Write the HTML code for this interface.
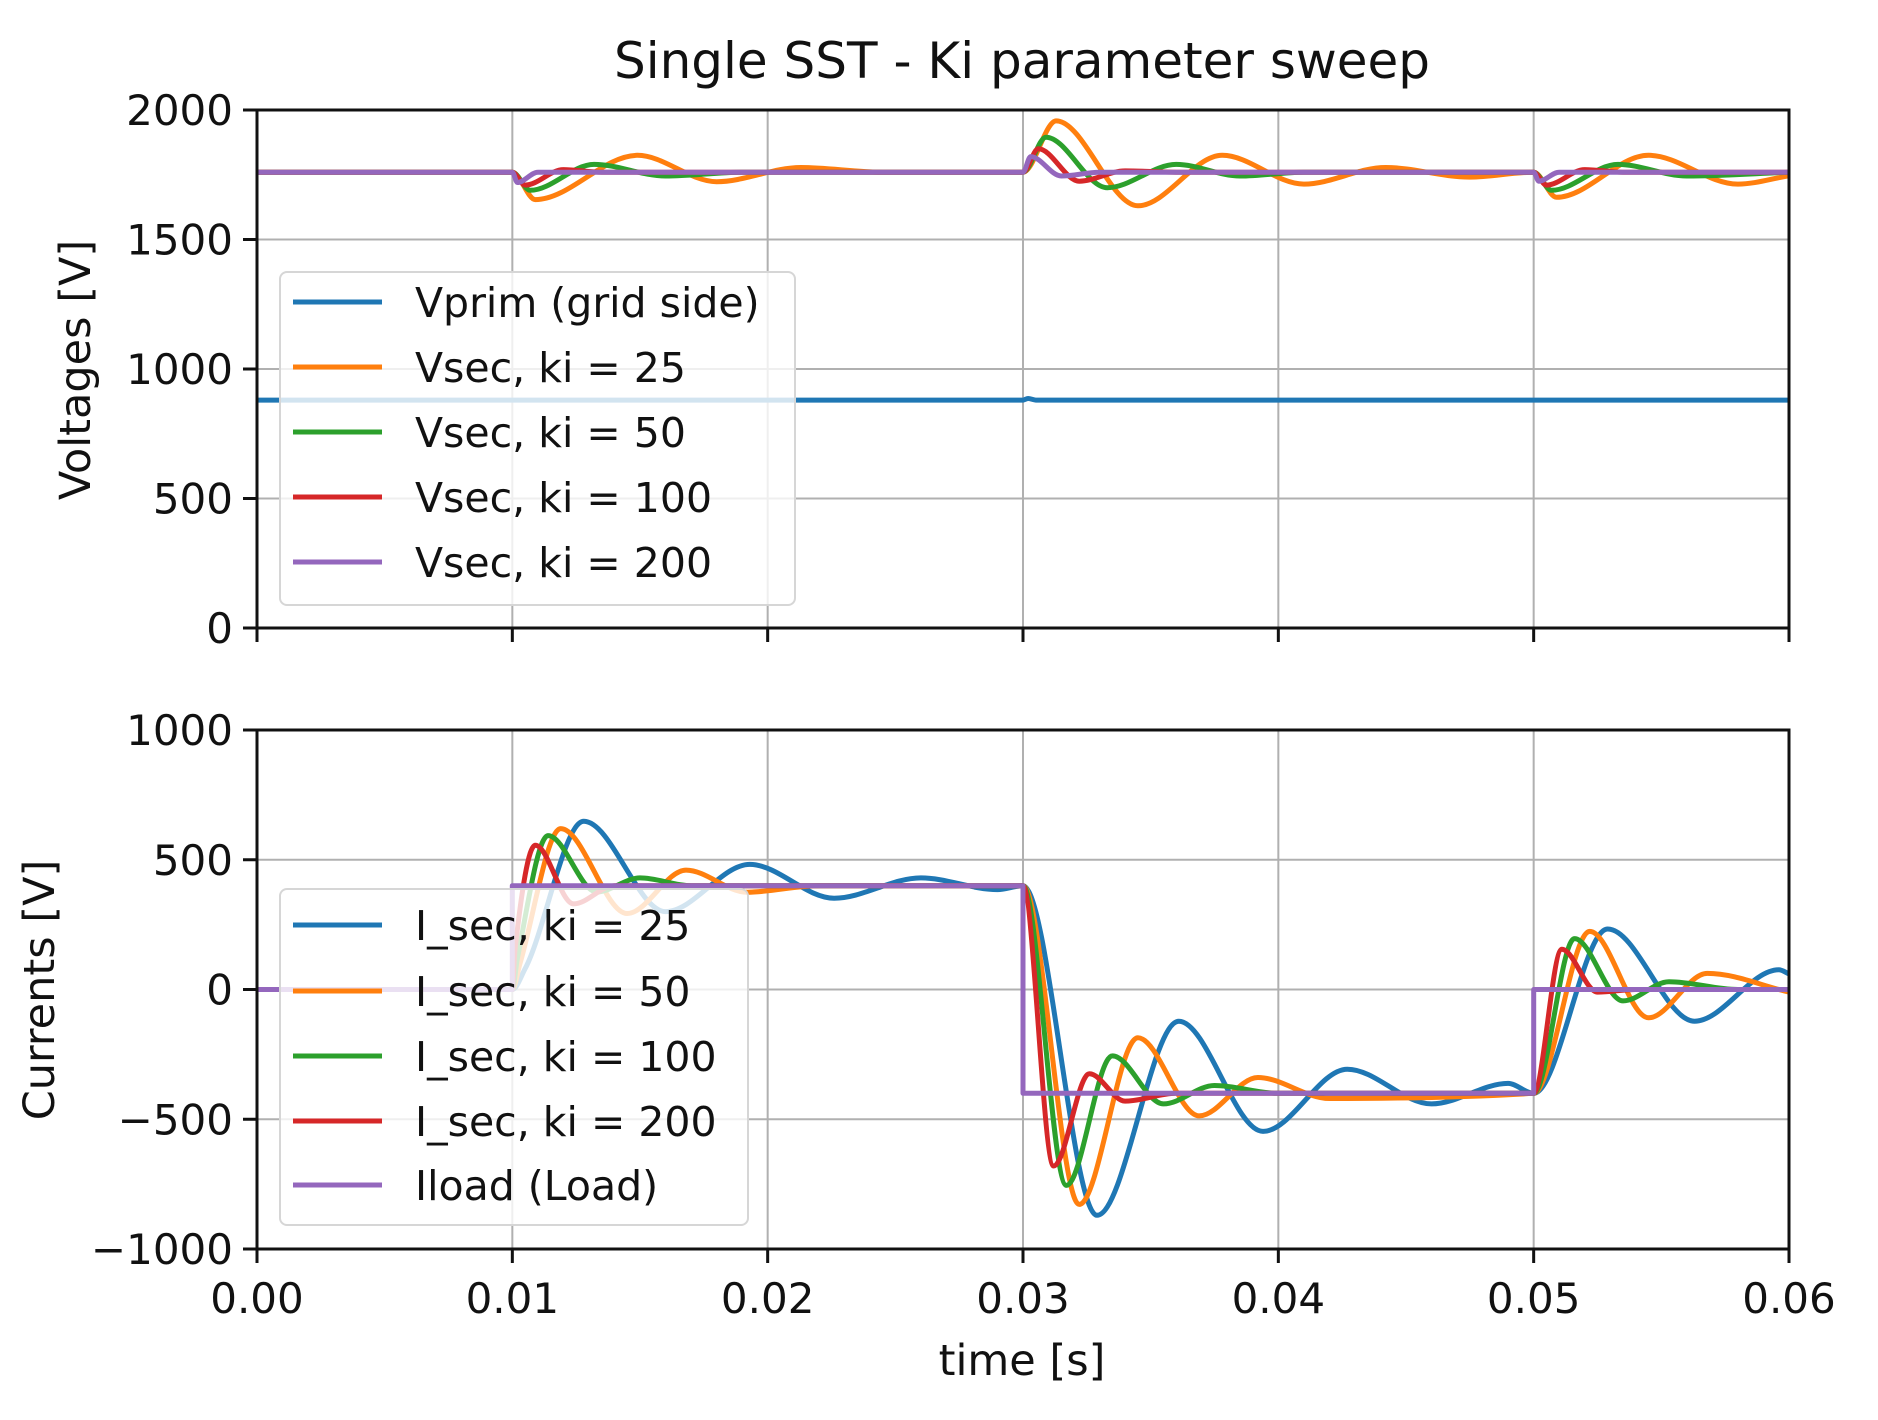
<!DOCTYPE html>
<html><head><meta charset="utf-8"><style>
html,body{margin:0;padding:0;background:#fff;}
svg{display:block;font-family:"DejaVu Sans","Liberation Sans",sans-serif;}
</style></head><body>
<svg id="chart" width="1878" height="1420" viewBox="0 0 1878 1420" xmlns="http://www.w3.org/2000/svg">
<rect width="1878" height="1420" fill="#fff"/>
<text x="1022" y="78" font-size="50" text-anchor="middle" fill="#111">Single SST - Ki parameter sweep</text>
<g id="topPanel"></g>
<g id="botPanel"></g>
<text transform="translate(90,370) rotate(-90)" font-size="43" text-anchor="middle" fill="#111">Voltages [V]</text>
<text transform="translate(54,990) rotate(-90)" font-size="43" text-anchor="middle" fill="#111">Currents [V]</text>
<text x="1022" y="1375" font-size="43" text-anchor="middle" fill="#111">time [s]</text>
</svg>
<script>
const xTicks = [0, 0.01, 0.02, 0.03, 0.04, 0.05, 0.06];
const xTickLabels = ["0.00","0.01","0.02","0.03","0.04","0.05","0.06"];
const vTicks = [0, 500, 1000, 1500, 2000];
const iTicks = [-1000, -500, 0, 500, 1000];
const iTickLabels = ["\u22121000","\u2212500","0","500","1000"];

const vprimT = [0, 0.03, 0.0302, 0.0305, 0.06];
const vprimV = [880, 880, 886, 880, 880];
const vsec25T = [0, 0.01, 0.0109, 0.0149, 0.018, 0.0213, 0.0245, 0.03, 0.0313, 0.0345, 0.0378, 0.041, 0.0442, 0.0475, 0.05, 0.0509, 0.0545, 0.058, 0.06];
const vsec25V = [1760, 1760, 1654, 1825, 1723, 1778, 1760, 1760, 1958, 1630, 1825, 1714, 1778, 1741, 1760, 1663, 1825, 1714, 1746];
const vsec50T = [0, 0.01, 0.0107, 0.0132, 0.016, 0.019, 0.03, 0.0309, 0.0333, 0.036, 0.0385, 0.041, 0.05, 0.0507, 0.0533, 0.056, 0.06];
const vsec50V = [1760, 1760, 1690, 1790, 1745, 1760, 1760, 1895, 1700, 1790, 1745, 1760, 1760, 1690, 1790, 1745, 1760];
const vsec100T = [0, 0.01, 0.0105, 0.012, 0.0135, 0.03, 0.0306, 0.0322, 0.034, 0.036, 0.05, 0.0505, 0.052, 0.0535, 0.06];
const vsec100V = [1760, 1760, 1710, 1770, 1760, 1760, 1850, 1725, 1765, 1760, 1760, 1710, 1770, 1760, 1760];
const vsec200T = [0, 0.01, 0.0102, 0.011, 0.03, 0.0303, 0.0315, 0.033, 0.05, 0.0502, 0.051, 0.06];
const vsec200V = [1760, 1760, 1720, 1760, 1760, 1820, 1745, 1760, 1760, 1725, 1760, 1760];

const i25T = [0, 0.01, 0.0105, 0.0128, 0.016, 0.0193, 0.0226, 0.026, 0.029, 0.03, 0.0329, 0.0361, 0.0394, 0.0427, 0.046, 0.049, 0.05, 0.0529, 0.0563, 0.0596, 0.06];
const i25V = [0, 0, 80, 648, 300, 482, 352, 430, 385, 400, -870, -122, -547, -307, -441, -362, -400, 233, -122, 76, 60];
const i50T = [0, 0.01, 0.0103, 0.0119, 0.0145, 0.0168, 0.0192, 0.022, 0.03, 0.0322, 0.0345, 0.0369, 0.0392, 0.042, 0.05, 0.0522, 0.0545, 0.0568, 0.06];
const i50V = [0, 0, 100, 620, 293, 460, 375, 400, 400, -828, -186, -487, -339, -420, -400, 224, -109, 62, -10];
const i100T = [0, 0.01, 0.0102, 0.0114, 0.0133, 0.015, 0.017, 0.03, 0.0317, 0.0335, 0.0355, 0.0375, 0.04, 0.05, 0.0516, 0.0535, 0.0553, 0.058, 0.06];
const i100V = [0, 0, 120, 593, 376, 430, 400, 400, -755, -256, -441, -370, -400, -400, 196, -44, 30, 0, 0];
const i200T = [0, 0.01, 0.0101, 0.0109, 0.0124, 0.014, 0.03, 0.0312, 0.0326, 0.034, 0.036, 0.05, 0.0511, 0.0525, 0.054, 0.06];
const i200V = [0, 0, 150, 556, 330, 400, 400, -680, -325, -430, -400, -400, 155, -10, 0, 0];
const iloadT = [0, 0.01, 0.01, 0.03, 0.03, 0.05, 0.05, 0.06];
const iloadV = [0, 0, 400, 400, -400, -400, 0, 0];

const NS = "http://www.w3.org/2000/svg";
const L = 257, R = 1789;
const xs = t => L + (t / 0.06) * (R - L);
const topY = v => 628 - (v / 2000) * 518;
const botY = v => 730 + ((1000 - v) / 2000) * 519;
const C = ["#1f77b4", "#ff7f0e", "#2ca02c", "#d62728", "#9467bd"];

function mk(parent, tag, attrs) {
  const e = document.createElementNS(NS, tag);
  for (const k in attrs) e.setAttribute(k, attrs[k]);
  parent.appendChild(e);
  return e;
}
// monotone cubic (Fritsch-Carlson) so flats stay flat and extrema sit on data points
function smoothPath(T, V, yf, straight) {
  const p = T.map((t, i) => [xs(t), yf(V[i])]);
  const n = p.length;
  let d = "M" + p[0][0].toFixed(1) + "," + p[0][1].toFixed(1);
  if (straight) {
    for (let i = 1; i < n; i++) d += "L" + p[i][0].toFixed(1) + "," + p[i][1].toFixed(1);
    return d;
  }
  const dx = [], s = [];
  for (let i = 0; i < n - 1; i++) { dx.push(p[i+1][0] - p[i][0]); s.push(dx[i] ? (p[i+1][1] - p[i][1]) / dx[i] : 0); }
  const m = new Array(n).fill(0);
  m[0] = s[0]; m[n-1] = s[n-2];
  for (let i = 1; i < n - 1; i++) {
    if (s[i-1] * s[i] <= 0) m[i] = 0;
    else {
      const w1 = 2 * dx[i] + dx[i-1], w2 = dx[i] + 2 * dx[i-1];
      m[i] = (w1 + w2) / (w1 / s[i-1] + w2 / s[i]);
    }
  }
  for (let i = 0; i < n - 1; i++) {
    const h = dx[i] / 3;
    d += "C" + (p[i][0] + h).toFixed(1) + "," + (p[i][1] + m[i] * h).toFixed(1) + " " +
         (p[i+1][0] - h).toFixed(1) + "," + (p[i+1][1] - m[i+1] * h).toFixed(1) + " " +
         p[i+1][0].toFixed(1) + "," + p[i+1][1].toFixed(1);
  }
  return d;
}
function panel(g, y0, y1, yTicks, yLabels, yf, showXLabels) {
  yTicks.forEach((v, i) => {
    const y = yf(v);
    const gl = mk(g, "line", {x1: L, x2: R, y1: y, y2: y, stroke: "#b0b0b0", "stroke-width": 2});
    
    
    const tk = mk(g, "line", {x1: L - 14, x2: L, y1: y, y2: y, stroke: "#111", "stroke-width": 3});
    
    
    const tx = mk(g, "text", {x: L - 24, y: y + 15, "font-size": 42, "text-anchor": "end", fill: "#111"});
    tx.textContent = yLabels[i];
    
    
  });
  xTicks.forEach((t, i) => {
    const x = xs(t);
    const gl = mk(g, "line", {x1: x, x2: x, y1: y0, y2: y1, stroke: "#b0b0b0", "stroke-width": 2});
    
    
    const tk = mk(g, "line", {x1: x, x2: x, y1: y1, y2: y1 + 14, stroke: "#111", "stroke-width": 3});
    
    
    if (showXLabels) {
      const tx = mk(g, "text", {x: x, y: y1 + 64, "font-size": 42, "text-anchor": "middle", fill: "#111"});
      tx.textContent = xTickLabels[i];
      
      
    }
  });
}
function series(g, T, V, yf, color, name, straight) {
  const p = mk(g, "path", {d: smoothPath(T, V, yf, straight), fill: "none", stroke: color, "stroke-width": 5, "stroke-linejoin": "round"});
  
  
}
function frame(g, y0, y1) {
  const r = mk(g, "rect", {x: L, y: y0, width: R - L, height: y1 - y0, fill: "none", stroke: "#111", "stroke-width": 3});
  
  
}
function legend(g, x, y, w, h, rows, names, colors) {
  const lg = mk(g, "g", {});
  
  
  mk(lg, "rect", {x: x, y: y, width: w, height: h, rx: 7, fill: "rgba(255,255,255,0.8)", stroke: "#d6d6d6", "stroke-width": 2});
  names.forEach((n, i) => {
    const e = mk(lg, "g", {});
    
    
    mk(e, "line", {x1: x + 13, x2: x + 102, y1: rows[i], y2: rows[i], stroke: colors[i], "stroke-width": 5});
    const t = mk(e, "text", {x: x + 135, y: rows[i] + 15, "font-size": 41, fill: "#111"});
    t.textContent = n;
  });
}

const topG = document.getElementById("topPanel");
panel(topG, 110, 628, vTicks, vTicks.map(String), topY, false);
series(topG, vprimT, vprimV, topY, C[0], "vprim-line");
series(topG, vsec25T, vsec25V, topY, C[1], "vsec-ki25-line");
series(topG, vsec50T, vsec50V, topY, C[2], "vsec-ki50-line");
series(topG, vsec100T, vsec100V, topY, C[3], "vsec-ki100-line");
series(topG, vsec200T, vsec200V, topY, C[4], "vsec-ki200-line");
frame(topG, 110, 628);
legend(topG, 280, 272, 515, 333, [302, 367, 432, 497, 562],
  ["Vprim (grid side)", "Vsec, ki = 25", "Vsec, ki = 50", "Vsec, ki = 100", "Vsec, ki = 200"], C);

const botG = document.getElementById("botPanel");
panel(botG, 730, 1249, iTicks, iTickLabels, botY, true);
series(botG, i25T, i25V, botY, C[0], "isec-ki25-line");
series(botG, i50T, i50V, botY, C[1], "isec-ki50-line");
series(botG, i100T, i100V, botY, C[2], "isec-ki100-line");
series(botG, i200T, i200V, botY, C[3], "isec-ki200-line");
series(botG, iloadT, iloadV, botY, C[4], "iload-line", true);
frame(botG, 730, 1249);
legend(botG, 280, 889, 468, 336, [925, 991, 1056, 1121, 1185],
  ["I_sec, ki = 25", "I_sec, ki = 50", "I_sec, ki = 100", "I_sec, ki = 200", "Iload (Load)"], C);
</script>
</body></html>
